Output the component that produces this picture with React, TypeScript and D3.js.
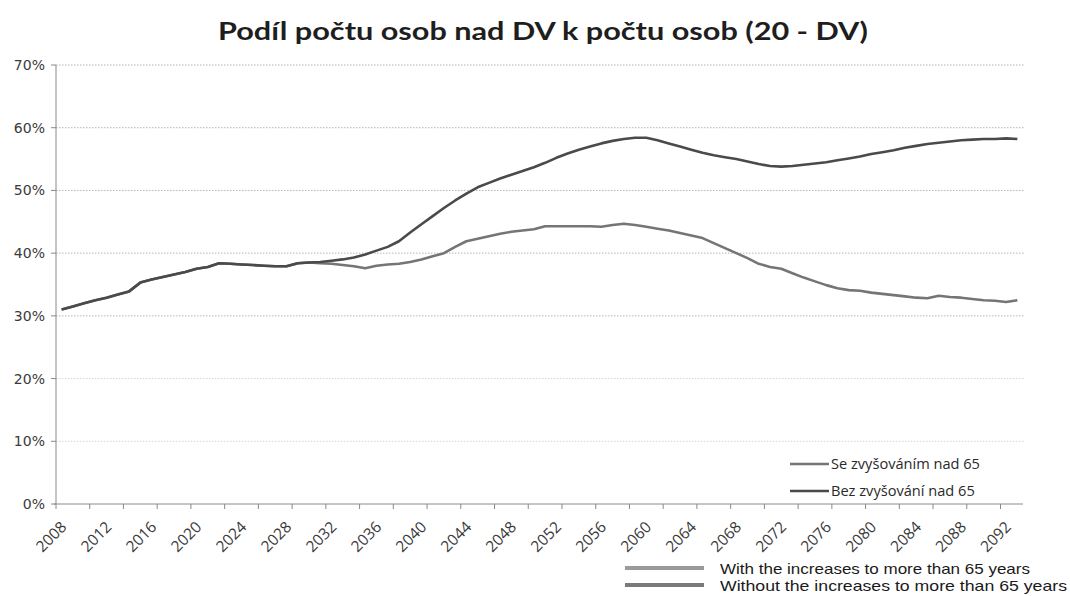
import * as d3 from "d3";

const W = 1070;
const H = 596;
const PLOT = { left: 56, right: 1023, top: 65, bottom: 504 };

const TITLE = "Podíl počtu osob nad DV k počtu osob (20 - DV)";

// years 2008 .. 2093
const years = d3.range(2008, 2094);

// Se zvyšováním nad 65 (with the increases)
const withIncrease = [
  31.0, 31.5, 32.0, 32.5, 32.9, 33.4, 33.9, 35.3, 35.8, 36.2,
  36.6, 37.0, 37.5, 37.8, 38.4, 38.3, 38.2, 38.1, 38.0, 37.9,
  37.9, 38.4, 38.5, 38.4, 38.3, 38.1, 37.9, 37.6, 38.0, 38.2,
  38.3, 38.6, 39.0, 39.5, 40.0, 41.0, 41.9, 42.3, 42.7, 43.1,
  43.4, 43.6, 43.8, 44.3, 44.3, 44.3, 44.3, 44.3, 44.2, 44.5,
  44.7, 44.5, 44.2, 43.9, 43.6, 43.2, 42.8, 42.4, 41.6, 40.8,
  40.0, 39.2, 38.3, 37.8, 37.5, 36.8, 36.1, 35.5, 34.9, 34.4,
  34.1, 34.0, 33.7, 33.5, 33.3, 33.1, 32.9, 32.8, 33.2, 33.0,
  32.9, 32.7, 32.5, 32.4, 32.2, 32.5,
];

// Bez zvyšování nad 65 (without the increases)
const withoutIncrease = [
  31.0, 31.5, 32.0, 32.5, 32.9, 33.4, 33.9, 35.3, 35.8, 36.2,
  36.6, 37.0, 37.5, 37.8, 38.4, 38.3, 38.2, 38.1, 38.0, 37.9,
  37.9, 38.4, 38.5, 38.6, 38.8, 39.0, 39.3, 39.8, 40.4, 41.0,
  41.9, 43.3, 44.6, 45.9, 47.2, 48.4, 49.5, 50.5, 51.2, 51.9,
  52.5, 53.1, 53.7, 54.4, 55.2, 55.9, 56.5, 57.0, 57.5, 57.9,
  58.2, 58.4, 58.4, 58.0, 57.5, 57.0, 56.5, 56.0, 55.6, 55.3,
  55.0, 54.6, 54.2, 53.9, 53.8, 53.9, 54.1, 54.3, 54.5, 54.8,
  55.1, 55.4, 55.8, 56.1, 56.4, 56.8, 57.1, 57.4, 57.6, 57.8,
  58.0, 58.1, 58.2, 58.2, 58.3, 58.2,
];

const yTicks = [0, 10, 20, 30, 40, 50, 60, 70];
const xLabelYears = d3.range(2008, 2093, 4);

const series = [
  { name: "Se zvyšováním nad 65", values: withIncrease, color: "#757575" },
  { name: "Bez zvyšování nad 65", values: withoutIncrease, color: "#4a4a4a" },
];

const bottomLegend = [
  { label: "With the increases to more than 65 years", color: "#9a9a9a", len: 310 },
  { label: "Without the increases to more than 65 years", color: "#7a7a7a", len: 347 },
];

export default function App() {
  const x = d3
    .scaleBand<number>()
    .domain(years)
    .range([PLOT.left, PLOT.right])
    .paddingInner(0)
    .paddingOuter(0);
  const bw = x.bandwidth();
  const cx = (yr: number) => (x(yr) ?? 0) + bw / 2;

  const y = d3.scaleLinear().domain([0, 70]).range([PLOT.bottom, PLOT.top]);

  const line = d3
    .line<number>()
    .x((_, i) => cx(years[i]))
    .y((d) => y(d));

  const tickIdx = d3.range(0, years.length, 3);

  return (
    <div style={{ position: "absolute", left: 0, top: 0 }}>
      <svg width={W} height={H} style={{ display: "block", background: "#fff" }}>
        <text
          x={543}
          y={40}
          textAnchor="middle"
          fontFamily="Lato, 'Open Sans', sans-serif"
          fontWeight="bold"
          fontSize={25}
          fill="#1e1e1e"
          textLength={650}
          lengthAdjust="spacingAndGlyphs"
        >
          {TITLE}
        </text>

        {/* grid */}
        {yTicks.slice(1).map((t) => (
          <line
            key={t}
            x1={PLOT.left}
            x2={PLOT.right + 2}
            y1={y(t)}
            y2={y(t)}
            stroke={t <= 20 ? "#d4d4d4" : "#b4b4b4"}
            strokeWidth={1}
            strokeDasharray="1.5,1.5"
          />
        ))}

        {/* y axis */}
        <line x1={PLOT.left} x2={PLOT.left} y1={PLOT.top} y2={PLOT.bottom} stroke="#8a8a8a" />
        {yTicks.map((t) => (
          <g key={t}>
            <line x1={PLOT.left - 5} x2={PLOT.left} y1={y(t)} y2={y(t)} stroke="#8a8a8a" />
            <text
              x={45}
              y={y(t) + 5}
              textAnchor="end"
              fontFamily="'DejaVu Sans', Verdana, sans-serif"
              fontSize={14}
              fill="#3a3a3a"
            >
              {t}%
            </text>
          </g>
        ))}

        {/* x axis */}
        <line x1={PLOT.left - 2} x2={PLOT.right} y1={PLOT.bottom} y2={PLOT.bottom} stroke="#8a8a8a" />
        {tickIdx.map((i) => (
          <line
            key={i}
            x1={x(years[i])}
            x2={x(years[i])}
            y1={PLOT.bottom}
            y2={PLOT.bottom + 5}
            stroke="#8a8a8a"
          />
        ))}
        {xLabelYears.map((yr) => (
          <text
            key={yr}
            transform={`translate(${cx(yr) + 6},${PLOT.bottom + 24}) rotate(-45)`}
            textAnchor="end"
            fontFamily="'Open Sans', sans-serif"
            fontSize={15.5}
            fill="#3a3a3a"
          >
            {yr}
          </text>
        ))}

        {/* series */}
        {series.map((s) => (
          <path
            key={s.name}
            d={line(s.values) ?? ""}
            fill="none"
            stroke={s.color}
            strokeWidth={2.6}
            strokeLinejoin="round"
          />
        ))}

        {/* inner legend */}
        {series.map((s, i) => (
          <g key={s.name} transform={`translate(790,${464 + i * 27})`}>
            <line x1={0} x2={39} y1={0} y2={0} stroke={s.color} strokeWidth={2.6} />
            <text
              x={41}
              y={5}
              fontFamily="'Open Sans', sans-serif"
              fontSize={14.6}
              fill="#2a2a2a"
            >
              {s.name}
            </text>
          </g>
        ))}

        {/* bottom legend */}
        {bottomLegend.map((b, i) => (
          <g key={b.label} transform={`translate(625,${568 + i * 17})`}>
            <line x1={0} x2={79} y1={0} y2={0} stroke={b.color} strokeWidth={4} />
            <text
              x={95}
              y={6}
              fontFamily="'Liberation Sans', Arial, sans-serif"
              fontSize={15}
              fill="#1a1a1a"
              textLength={b.len}
              lengthAdjust="spacingAndGlyphs"
            >
              {b.label}
            </text>
          </g>
        ))}
      </svg>
    </div>
  );
}
